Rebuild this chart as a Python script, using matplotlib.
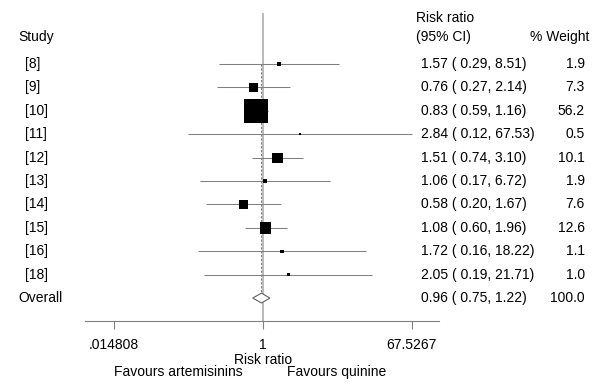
import numpy as np
import matplotlib
matplotlib.use("Agg")
import matplotlib.pyplot as plt
from matplotlib import transforms
from matplotlib.patches import Polygon

plt.rcParams['font.family'] = ['Liberation Sans', 'DejaVu Sans']

# ---- data ----
studies = ["[8]", "[9]", "[10]", "[11]", "[12]", "[13]", "[14]", "[15]", "[16]", "[18]"]
rr = [1.57, 0.76, 0.83, 2.84, 1.51, 1.06, 0.58, 1.08, 1.72, 2.05]
lo = [0.29, 0.27, 0.59, 0.12, 0.74, 0.17, 0.20, 0.60, 0.16, 0.19]
hi = [8.51, 2.14, 1.16, 67.53, 3.10, 6.72, 1.67, 1.96, 18.22, 21.71]
weight = [1.9, 7.3, 56.2, 0.5, 10.1, 1.9, 7.6, 12.6, 1.1, 1.0]
overall_label = "Overall"
overall_rr, overall_lo, overall_hi, overall_w = 0.96, 0.75, 1.22, 100.0
tick_values = [0.014808, 1, 67.5267]
tick_labels = [".014808", "1", "67.5267"]

W, H = 600, 391
fig = plt.figure(figsize=(W / 100, H / 100), dpi=100)
ax = fig.add_axes([85 / W, 70 / H, 354 / W, 308 / H])
ax.set_xscale('log')
ax.set_xlim(np.exp(-5.03), np.exp(4.98))
ax.set_ylim(11.98, -1.18)

n = len(studies)
rows = np.arange(1, n + 1)
orow = n + 1

ci_col = '#808080'
# reference line at 1
ax.axvline(1, color='#b4b4b4', lw=1.3, zorder=1)
# overall dashed line
ax.vlines(overall_rr, 1, orow - 0.21, color='#808080', lw=0.8,
          linestyles=(0, (2, 1.5)), zorder=2)
# CIs
ax.hlines(rows, lo, hi, color=ci_col, lw=0.75, zorder=3)
# boxes
side_pt = 3.2 * np.sqrt(weight) * 0.72
ax.scatter(rr, rows, marker='s', s=side_pt ** 2, color='black', linewidths=0, zorder=4)
# diamond
dh = 0.21
diamond = Polygon([(overall_lo, orow), (overall_rr, orow - dh), (overall_hi, orow),
                   (overall_rr, orow + dh)], closed=True, facecolor='white',
                  edgecolor='#606060', lw=0.8, zorder=5)
ax.add_patch(diamond)

for s in ['top', 'right', 'left']:
    ax.spines[s].set_visible(False)
ax.spines['bottom'].set_color('#808080')
ax.spines['bottom'].set_linewidth(0.8)
ax.set_yticks([])
ax.set_xticks(tick_values)
ax.set_xticklabels(tick_labels)
ax.xaxis.set_minor_locator(matplotlib.ticker.NullLocator())
ax.tick_params(axis='x', length=5.8, width=0.8, color='#808080', pad=6.5, labelsize=10)

fs = 10
tr = transforms.blended_transform_factory(fig.transFigure, ax.transData)
# left column
ax.text(18 / W, -0.15, "Study", transform=tr, ha='left', va='center', fontsize=fs)
for r, s in zip(rows, studies):
    ax.text(25 / W, r, s, transform=tr, ha='left', va='center', fontsize=fs)
ax.text(18 / W, orow, overall_label, transform=tr, ha='left', va='center', fontsize=fs)

# right columns
ax.text(416 / W, -0.98, "Risk ratio", transform=tr, ha='left', va='center', fontsize=fs)
ax.text(416 / W, -0.15, "(95% CI)", transform=tr, ha='left', va='center', fontsize=fs)
ax.text(589 / W, -0.15, "% Weight", transform=tr, ha='right', va='center', fontsize=fs)
for r, e, l, h, w in zip(rows, rr, lo, hi, weight):
    ax.text(421 / W, r, f"{e:.2f} ( {l:.2f}, {h:.2f})", transform=tr,
            ha='left', va='center', fontsize=fs)
    ax.text(585 / W, r, f"{w:.1f}", transform=tr, ha='right', va='center', fontsize=fs)
ax.text(421 / W, orow, f"{overall_rr:.2f} ( {overall_lo:.2f}, {overall_hi:.2f})",
        transform=tr, ha='left', va='center', fontsize=fs)
ax.text(585 / W, orow, f"{overall_w:.1f}", transform=tr, ha='right', va='center', fontsize=fs)

# bottom labels
trb = transforms.blended_transform_factory(ax.transData, fig.transFigure)
ax.text(1, 1 - 359.5 / H, "Risk ratio", transform=trb, ha='center', va='center', fontsize=fs)
fig.text(243 / W, 1 - 372 / H, "Favours artemisinins", ha='right', va='center', fontsize=fs)
fig.text(287 / W, 1 - 372 / H, "Favours quinine", ha='left', va='center', fontsize=fs)

fig.savefig("out.png", dpi=100, facecolor='white')
